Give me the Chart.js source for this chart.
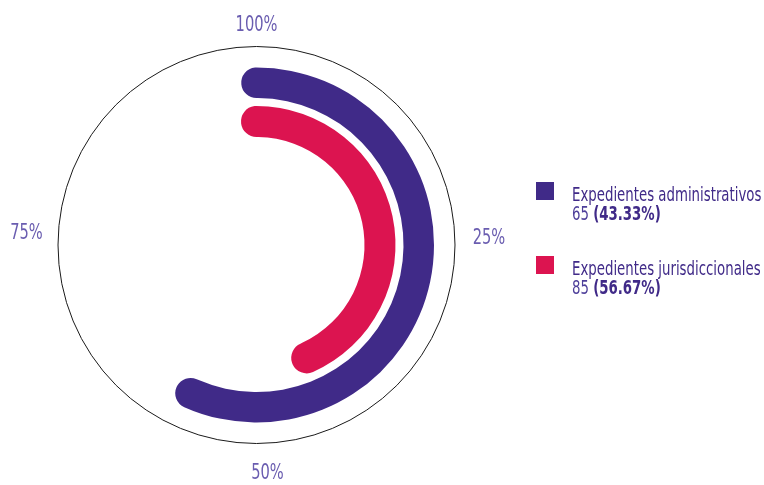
<!DOCTYPE html>
<html>
<head>
<meta charset="utf-8">
<script src="https://cdn.jsdelivr.net/npm/chart.js@4/dist/chart.umd.min.js"></script>
<style>
  html, body { margin: 0; padding: 0; background: #fff; }
  #wrap { position: relative; width: 764px; height: 485px; }
  #legend {
    position: absolute; left: 0; top: 0;
    font-family: "DejaVu Sans Condensed", "Liberation Sans Narrow", sans-serif;
    color: #402a88;
  }
  .box { position: absolute; left: 536px; width: 18px; height: 18px; }
  .line {
    position: absolute; left: 572px; white-space: nowrap;
    font-size: 20px; line-height: 20px;
    transform: scaleX(0.74); transform-origin: 0 0;
  }
  .val { font-weight: 300; color: #4e3f9a; }
  .val b { font-weight: 700; color: #402a88; }
</style>
</head>
<body>
<div id="wrap">
  <canvas id="myChart" width="764" height="485"></canvas>
  <div id="legend"></div>
</div>
<script>
// datos
const categories = ["Expedientes administrativos", "Expedientes jurisdiccionales"];
const values = [65, 85];
const percents = ["43.33%", "56.67%"];
const colors = ["#402a88", "#dc1450"];
const tickLabels = ["100%", "25%", "50%", "75%"];
const total = 150;

// en la imagen original el anillo exterior (morado) muestra 85 y el interior (rojo) 65
const ringValueIndex = [1, 0];
const ringColorIndex = [0, 1];

// anillos: grosor y tapa redondeada
const ringWeights = [30.5, 31];
const ringCenter = [162.25, 123.5];

function ringDataset(i) {
  const v = values[ringValueIndex[i]];
  const capDeg = (ringWeights[i] / 2) / ringCenter[i] * 180 / Math.PI;
  const extra = 2 * capDeg / 360 * total;
  return {
    data: [v + extra, total - v - extra],
    backgroundColor: [colors[ringColorIndex[i]], "rgba(0,0,0,0)"],
    borderWidth: 0,
    borderRadius: ringWeights[i] / 2,
    rotation: -capDeg,
    weight: ringWeights[i]
  };
}

// circulo de contorno y etiquetas de porcentaje
const outlinePlugin = {
  id: "outline",
  afterDraw(chart) {
    const arc = chart.getDatasetMeta(0).data[0];
    const cx = arc.x, cy = arc.y;
    const c = chart.ctx;
    c.save();
    c.beginPath();
    c.arc(cx, cy, 198.5, 0, Math.PI * 2);
    c.strokeStyle = "#1a1a1a";
    c.lineWidth = 1;
    c.stroke();

    c.fillStyle = "#6a5db0";
    c.font = "22px 'DejaVu Sans Condensed', sans-serif";
    c.textAlign = "center";
    c.textBaseline = "middle";
    const offs = [[0, -219.5], [232.5, -6.5], [11, 228], [-230, -11.5]];
    tickLabels.forEach((t, k) => {
      c.save();
      c.translate(cx + offs[k][0], cy + offs[k][1]);
      c.scale(0.74, 1);
      c.fillText(t, 0, 0);
      c.restore();
    });
    c.restore();
  }
};

const ctx = document.getElementById("myChart").getContext("2d");

const chart = new Chart(ctx, {
  type: "doughnut",
  data: {
    labels: ["valor", "resto"],
    datasets: [
      ringDataset(0),
      { data: [1], backgroundColor: ["rgba(0,0,0,0)"], borderWidth: 0, weight: 8 },
      ringDataset(1)
    ]
  },
  options: {
    responsive: false,
    animation: false,
    cutout: "60.85%",
    hoverOffset: 0,
    offset: 0,
    layout: { padding: { left: 79, right: 330, top: 67.5, bottom: 62.5 } },
    plugins: {
      legend: { display: false },
      tooltip: { enabled: false }
    }
  },
  plugins: [outlinePlugin]
});

// leyenda
const legend = document.getElementById("legend");
const boxTops = [182, 256];
categories.forEach((name, i) => {
  const top = boxTops[i];
  legend.insertAdjacentHTML("beforeend",
    '<div class="box" style="top:' + top + 'px;background:' + colors[i] + '"></div>' +
    '<div class="line" style="top:' + (top + 1.5) + 'px">' + name + '</div>' +
    '<div class="line val" style="top:' + (top + 21) + 'px">' + values[i] +
    ' <b>(' + percents[i] + ')</b></div>');
});
</script>
</body>
</html>
